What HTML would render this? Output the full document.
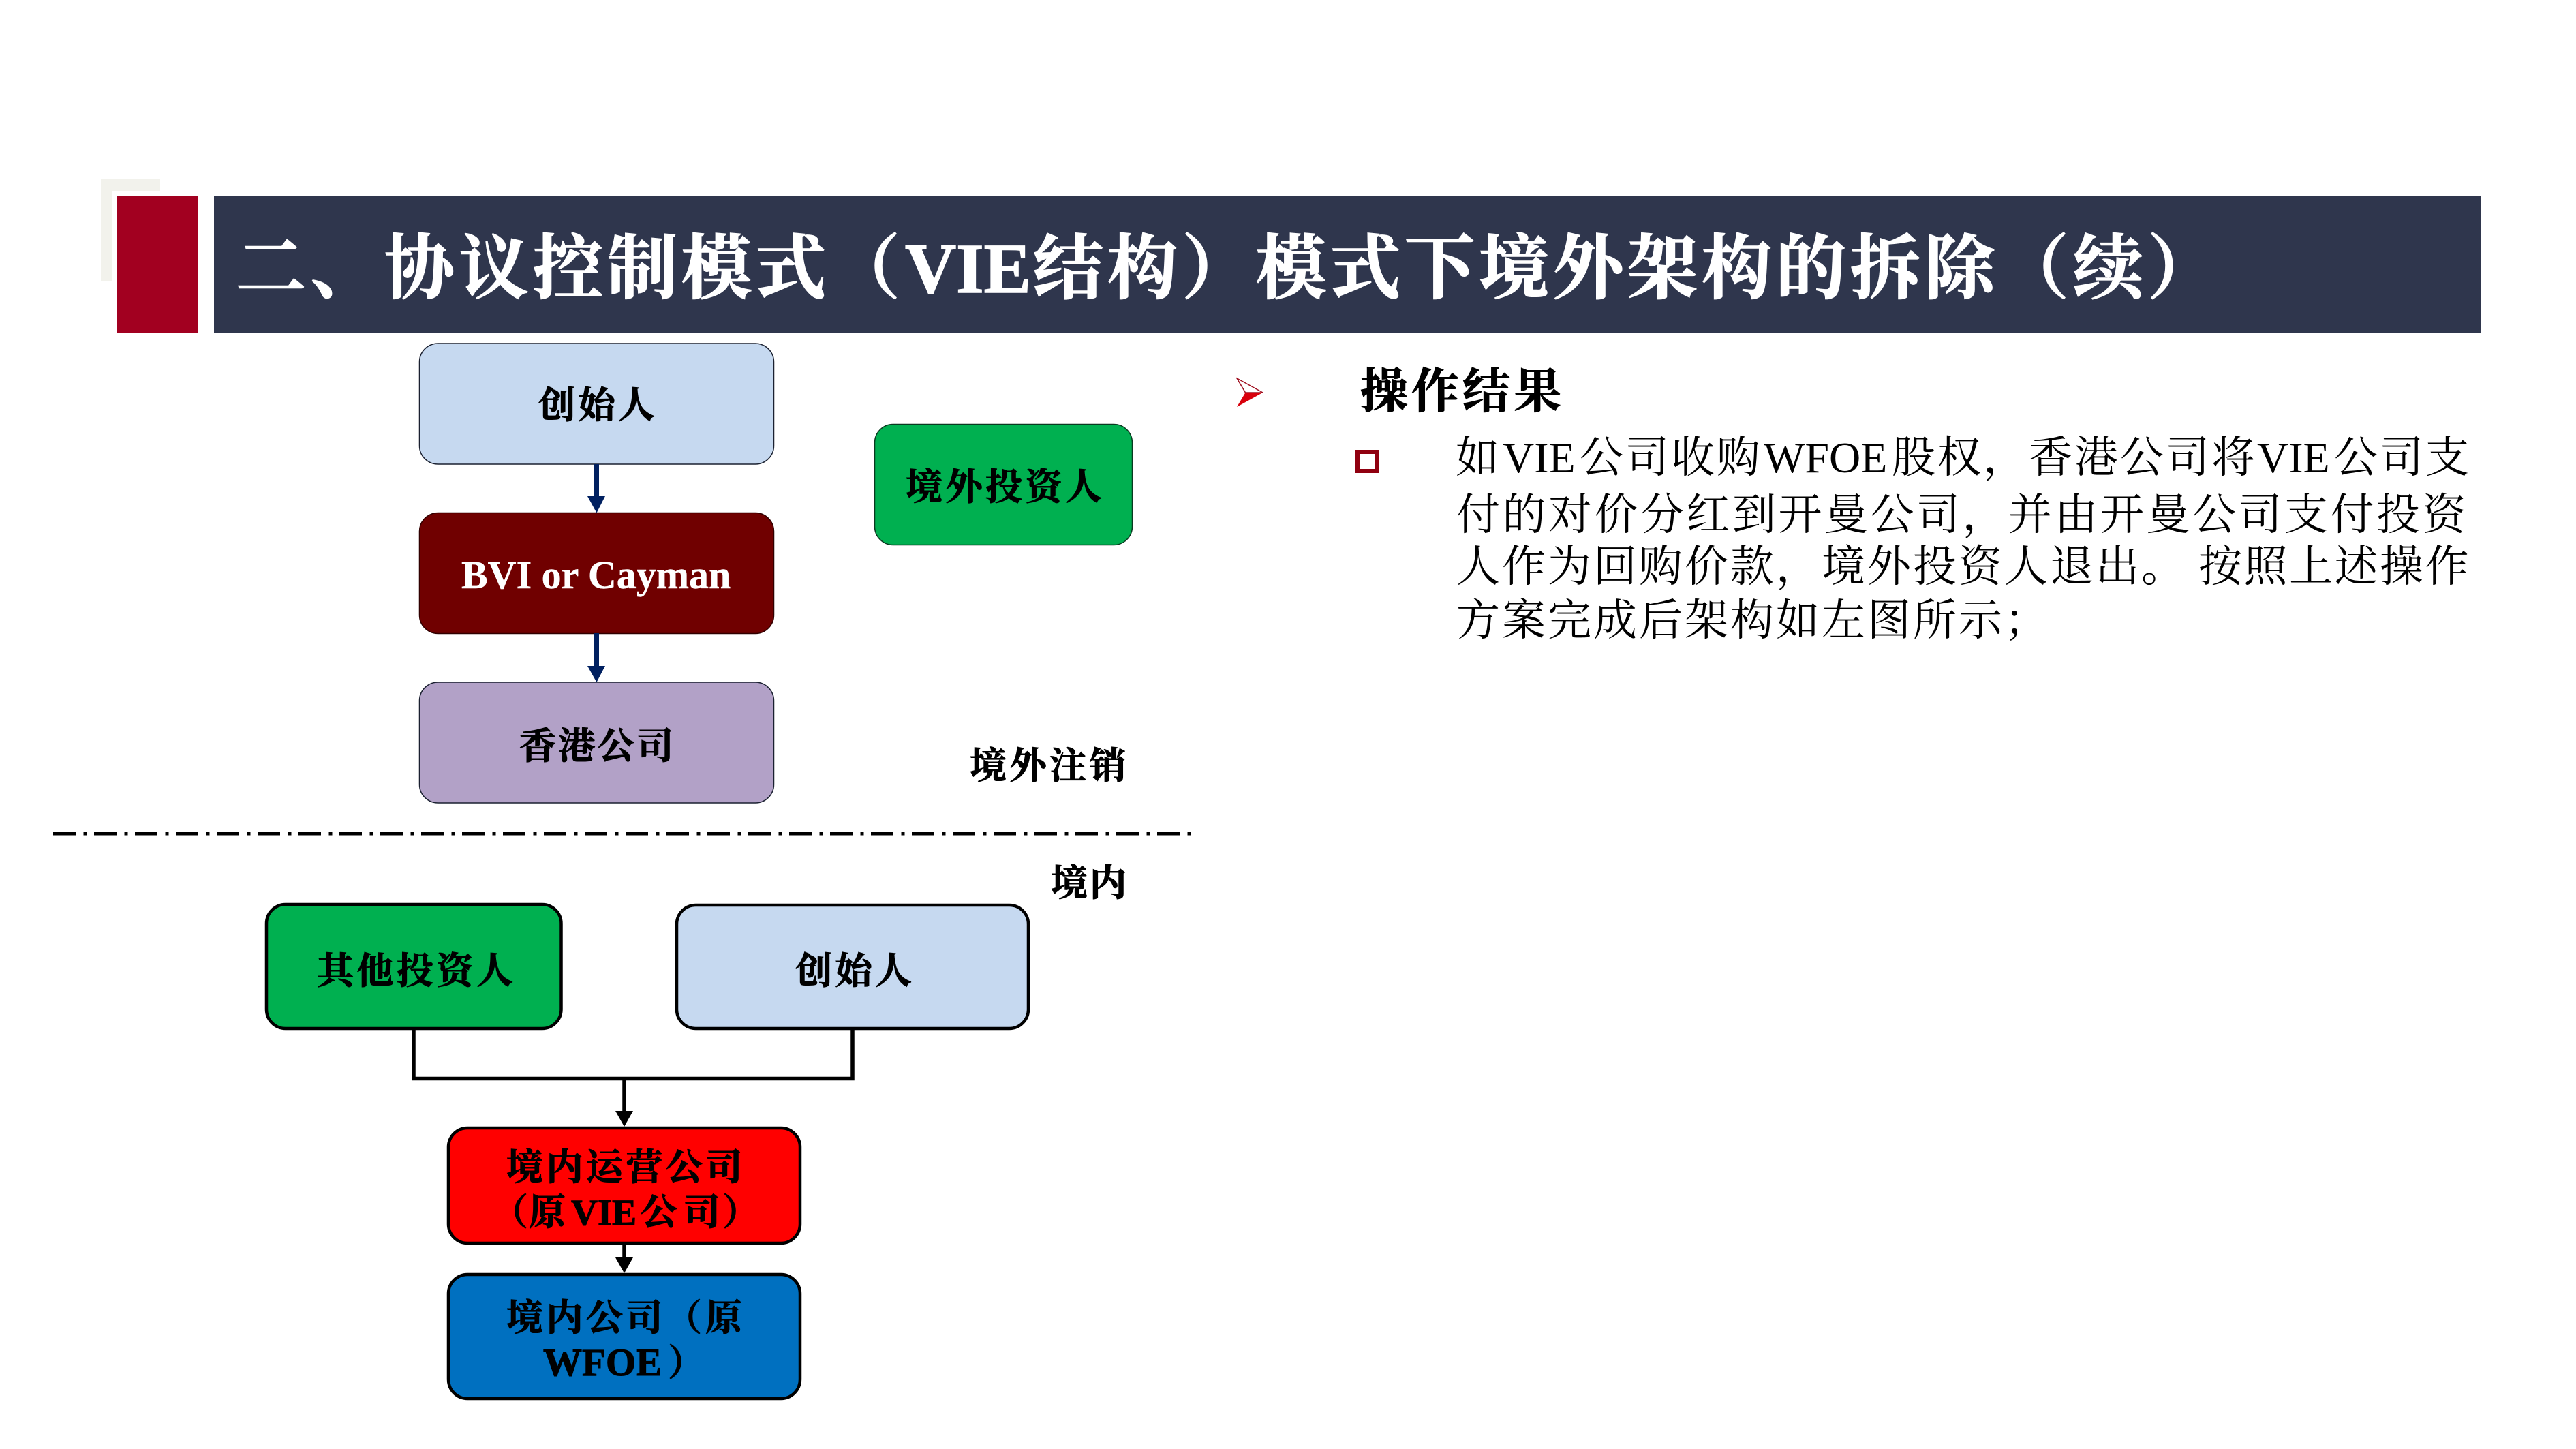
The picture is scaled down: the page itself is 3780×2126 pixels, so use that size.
<!DOCTYPE html>
<html lang="zh-CN"><head><meta charset="utf-8"><title>VIE</title>
<style>
html,body{margin:0;padding:0;background:#fff}
svg{display:block}
text{font-family:"Liberation Serif","Noto Serif CJK SC",serif}
.b{font-weight:700;fill:#000;font-size:54px;letter-spacing:4.500px;stroke:#000;stroke-width:1px}
.m{letter-spacing:4.500px}
.n{font-weight:400;fill:#000;font-size:64px;letter-spacing:3px}
.w{letter-spacing:3.500px}
.l{letter-spacing:0}
.t{font-weight:700;fill:#fff;font-size:103px;letter-spacing:6px;stroke:#fff;stroke-width:1.500px}
</style></head><body>
<svg width="3780" height="2126" viewBox="0 0 3780 2126" xmlns="http://www.w3.org/2000/svg">
<rect width="3780" height="2126" fill="#fff"/>
<rect x="148" y="263" width="87" height="150" fill="#f2f2ec"/>
<rect x="165" y="280" width="133" height="215" fill="#fff"/>
<rect x="172" y="287" width="119" height="201" fill="#a20020"/>
<rect x="314" y="288" width="3326" height="201" fill="#2f364d"/>
<text class="t" y="429"><tspan x="346">二、协议控制模式（</tspan><tspan x="1328" class="l" font-size="104">VIE</tspan><tspan x="1516">结构）模式下境外架构的拆除（续）</tspan></text>

<!-- upper boxes -->
<rect x="615.500" y="504" width="520" height="177" rx="27" fill="#c6d9f0" stroke="#1a2030" stroke-width="1.500"/>
<rect x="615.500" y="752.500" width="520" height="177" rx="27" fill="#700000" stroke="#300000" stroke-width="1.500"/>
<rect x="615.500" y="1001" width="520" height="177" rx="27" fill="#b2a1c7" stroke="#1a2030" stroke-width="1.500"/>
<rect x="1283.500" y="622.500" width="378" height="177" rx="27" fill="#00b050" stroke="#0a3a20" stroke-width="1.500"/>
<text class="b" x="790" y="613">创始人</text>
<text x="677" y="863" font-size="58" font-weight="700" fill="#fff" stroke="#fff" stroke-width=".4">BVI or Cayman</text>
<text class="b" x="762" y="1113" style="letter-spacing:3.500px">香港公司</text>
<text class="b" x="1329" y="733">境外投资人</text>
<text class="b" x="1423" y="1142">境外注销</text>

<!-- upper arrows -->
<path d="M875.500 681V732M875.500 929V981" stroke="#002060" stroke-width="7" fill="none"/>
<path d="M862 728H888L875.500 752.500ZM862 977H888L875.500 1001Z" fill="#002060"/>

<!-- dash-dot -->
<line x1="78" y1="1223" x2="1747" y2="1223" stroke="#000" stroke-width="5" stroke-dasharray="33 11.500 5 10.500"/>
<text class="b" x="1542" y="1314" style="letter-spacing:3px">境内</text>

<!-- lower boxes -->
<rect x="391" y="1327" width="432.500" height="182" rx="28" fill="#00b050" stroke="#000" stroke-width="4.500"/>
<rect x="993" y="1328" width="516" height="181" rx="28" fill="#c6d9f0" stroke="#000" stroke-width="4.500"/>
<rect x="658" y="1655" width="516" height="169" rx="28" fill="#ff0000" stroke="#000" stroke-width="4.500"/>
<rect x="658" y="1870" width="516" height="182" rx="28" fill="#0070c0" stroke="#000" stroke-width="4.500"/>
<text class="b" x="465" y="1443">其他投资人</text>
<text class="b" x="1167" y="1443">创始人</text>
<text class="b" x="743" y="1731">境内运营公司</text>
<text class="b" y="1797"><tspan x="721">（</tspan><tspan x="776">原</tspan><tspan x="838" class="l">VIE</tspan><tspan x="940">公</tspan><tspan x="1003">司</tspan><tspan x="1060">）</tspan></text>
<text class="b" y="1952"><tspan x="743">境内公司</tspan><tspan x="976">（</tspan><tspan x="1035">原</tspan></text>
<text class="b" y="2018"><tspan x="797" class="l" font-size="57">WFOE</tspan><tspan x="980">）</tspan></text>

<!-- lower connectors -->
<path d="M607 1510V1582.500H1251V1510M916 1582.500V1634M916 1826V1849" stroke="#000" stroke-width="5.500" fill="none"/>
<path d="M903 1630H929L916 1653ZM903 1845H929L916 1868Z" fill="#000"/>

<!-- right -->
<path d="M1815 555L1853 576L1827.500 576Z" fill="#fff" stroke="#a01020" stroke-width="1.500"/>
<path d="M1827.500 576H1853L1815 597Z" fill="#d8000c"/>
<text x="1996" y="598" font-size="70" font-weight="700" fill="#000" stroke="#000" stroke-width="1" letter-spacing="5">操作结果</text>
<rect x="1992" y="663" width="28" height="28" fill="#fff" stroke="#900010" stroke-width="6"/>
<text class="n" y="693"><tspan x="2136">如</tspan><tspan x="2205" class="l">VIE</tspan><tspan x="2318">公司收购</tspan><tspan x="2588" class="l">WFOE</tspan><tspan x="2776">股权，香港公司将</tspan><tspan x="3312" class="l">VIE</tspan><tspan x="3425">公司支</tspan></text>
<text class="n w" x="2137" y="777">付的对价分红到开曼公司，并由开曼公司支付投资</text>
<text class="n" y="853"><tspan x="2137">人作为回购价款，境外投资人退出。</tspan><tspan x="3226" style="letter-spacing:2.500px">按照上述操作</tspan></text>
<text class="n" x="2137" y="932">方案完成后架构如左图所示；</text>
</svg>
</body></html>
